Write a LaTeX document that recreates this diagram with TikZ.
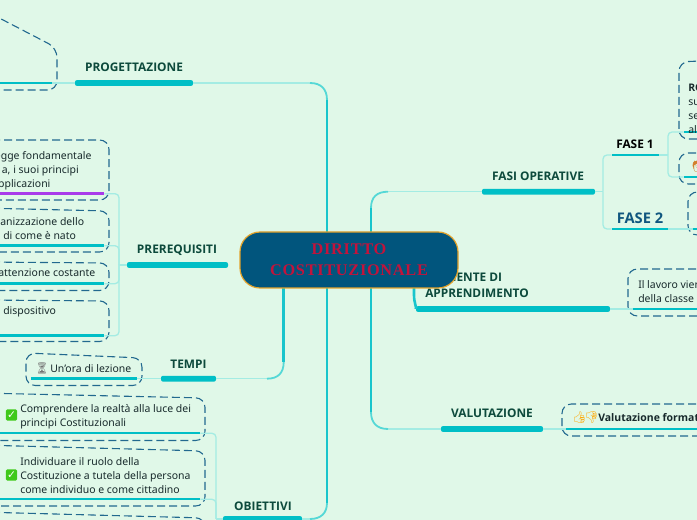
\documentclass[tikz,border=0pt]{standalone}
\usepackage{fontspec}
\setmainfont{Noto Sans}
\newfontfamily\boldf{Open Sans}
\newfontfamily\ctrfont[LetterSpace=4.5]{Liberation Serif}
\newfontfamily\emojifont{Noto Emoji}
\newfontfamily\dvfont{DejaVu Sans}
\definecolor{bgc}{HTML}{E0F8E8}
\definecolor{teal}{HTML}{00BFC6}
\definecolor{lightl}{HTML}{A4ECE3}
\definecolor{midl}{HTML}{55D8D6}
\definecolor{dashc}{HTML}{22698F}
\definecolor{topicc}{HTML}{0D4A3C}
\definecolor{txtc}{HTML}{17292B}
\definecolor{ctrc}{HTML}{01557D}
\definecolor{ctro}{HTML}{E3A32B}
\definecolor{ctrt}{HTML}{C3133B}
\definecolor{purp}{HTML}{A93BEA}
\definecolor{fase}{HTML}{10567F}
\definecolor{chkg}{HTML}{3FC91A}
\tikzset{
  px/.style={line width=#1*0.75pt},
  thinl/.style={draw=lightl,px=1.3,rounded corners=3pt},
  midline/.style={draw=midl,px=1.8},
  trunk/.style={draw=teal!90!white,px=2.6},
  dbox/.style={draw=dashc,px=1.1,dash pattern=on 6pt off 3pt,rounded corners=7pt},
  topic/.style={font=\boldf\bfseries\fontsize{8.9}{12}\selectfont,text=topicc,inner sep=0pt,align=left},
  btext/.style={font=\fontsize{7.85}{10.5}\selectfont,text=txtc,inner sep=0pt,align=left,anchor=west},
  barm/.style={fill=teal,draw=none,rounded corners=1.5pt,inner sep=0pt,minimum height=4.4pt},
  bars/.style={fill=teal,draw=none,inner sep=0pt,minimum height=1.8pt},
  chk/.style={fill=chkg,rounded corners=1pt,inner sep=0pt,minimum size=8.4pt,text=white,font=\dvfont\bfseries\fontsize{8}{8}\selectfont},
  emo/.style={font=\emojifont\fontsize{8.5}{8.5}\selectfont,inner sep=0pt},
}
\newcommand{\barn}[5]{\node[#1,minimum width={(#4-#3)*0.75pt}] (#2) at ({(#3+#4)/2},#5) {};}
\begin{document}
\begin{tikzpicture}[x=0.75pt,y=-0.75pt]
\useasboundingbox[fill=bgc] (0,0) rectangle (697,520);

% dashed boxes
\draw[dbox] (-20,8) -- (57,48) -- (57,90) -- (-20,90);
\draw[dbox] (-20,140) -- (109,140) -- (109,200) -- (-20,200);
\draw[dbox] (-20,208) -- (109,211) -- (109,252) -- (-20,252);
\draw[dbox] (-20,262) -- (109,263) -- (109,290.5) -- (-20,290.5);
\draw[dbox] (-20,300) -- (109,301) -- (109,341.5) -- (-20,341.5);
\draw[dbox] (26,353) -- (142,358) -- (142,385.5) -- (26,385.5) -- cycle;
\draw[dbox] (-20,393) -- (205,398) -- (205,440.5) -- (-20,440.5);
\draw[dbox] (-20,445) -- (205,451) -- (205,506) -- (-20,506);
\draw[dbox] (-20,512) -- (205,518) -- (205,560) -- (-20,560);
\draw[dbox] (720,60) -- (679,62) -- (679,139) -- (720,139);
\draw[dbox] (720,153) -- (679,153) -- (679,184) -- (720,184);
\draw[dbox] (720,192) -- (688,192) -- (688,235) -- (720,235);
\draw[dbox] (720,269) -- (628,269) -- (628,316) -- (720,316);
\draw[dbox] (720,404) -- (562,404) -- (562,436) -- (720,436);

% bars
\barn{barm}{bprog}{75}{193}{83}
\barn{barm}{bpre}{127}{228}{265}
\barn{barm}{btem}{161}{216}{378.7}
\barn{barm}{bobi}{223}{302}{519}
\barn{barm}{bfas}{482}{595}{191.7}
\barn{barm}{bamb}{416}{610}{309}
\barn{barm}{bval}{441}{543}{429}
\barn{bars}{bf1}{612}{659}{155}
\barn{bars}{bf2}{612}{668}{229}
\barn{bars}{bbA}{-5}{52}{83}
\barn{bars,fill=purp}{bp1}{-5}{104}{193.7}
\barn{bars}{bp2}{-5}{104}{245.7}
\barn{bars}{bp3}{-5}{104}{283.7}
\barn{bars}{bp4}{-5}{104}{335.7}
\barn{bars}{bt1}{31}{137}{378.7}
\barn{bars}{bo1}{0}{200}{433.3}
\barn{bars}{bo2}{0}{200}{499.3}
\barn{bars}{bfa1}{684}{702}{132}
\barn{bars}{bfa2}{684}{702}{177}
\barn{bars}{bfa3}{693}{702}{229}
\barn{bars}{bamb1}{633}{702}{309}
\barn{bars}{bval1}{566}{702}{429}

% junctions
\coordinate (jpre) at (119,265);
\coordinate (jobi) at (216,519);
\coordinate (jfas) at (603,191.7);
\coordinate (jf1) at (668,155);

% small connectors
\draw[thinl] (bprog.west) -- (bbA.east);
\draw[thinl] (bpre.west) -- (jpre);
\draw[thinl] (bp1.east) -| (jpre);
\draw[thinl] (bp2.east) -| (jpre);
\draw[thinl] (bp3.east) -| (jpre);
\draw[thinl] (bp4.east) -| (jpre);
\draw[thinl] (btem.west) -- (bt1.east);
\draw[thinl] (bobi.west) -- (jobi);
\draw[thinl] (bo1.east) -| (jobi);
\draw[thinl] (bo2.east) -| (jobi);
\draw[thinl] (bfas.east) -- (jfas);
\draw[thinl] (bf1.west) -| (jfas);
\draw[thinl] (bf2.west) -| (jfas);
\draw[thinl] (bf1.east) -- (jf1);
\draw[thinl] (bfa1.west) -| (jf1);
\draw[thinl] (bfa2.west) -| (jf1);
\draw[thinl] (bf2.east) -- (bfa3.west);
\draw[thinl] (bamb.east) -- (bamb1.west);
\draw[thinl] (bval.east) -- (bval1.west);

% topic labels
\node[topic] (tprog) at (134,67.5) {PROGETTAZIONE};
\node[topic] (tpre) at (177,250) {PREREQUISITI};
\node[topic] (ttem) at (188.5,364) {TEMPI};
\node[topic] (tobi) at (263,506) {OBIETTIVI};
\node[topic] (tfas) at (538,176.5) {FASI OPERATIVE};
\node[topic,anchor=west] (tamb) at (425,285.5) {AMBIENTE DI\\APPRENDIMENTO};
\node[topic] (tval) at (492,413.5) {VALUTAZIONE};
\node[topic,text=black] (tf1) at (635,144) {FASE 1};
\node[topic,text=fase,font=\boldf\bfseries\fontsize{11}{12}\selectfont] (tf2) at (640,218.5) {FASE 2};

% box texts
\node[btext] (p1) at (-8,170.5) {legge fondamentale\\\hspace*{7.2pt}a, i suoi principi\\\hspace*{0pt}applicazioni};
\node[btext] (p2) at (-17,228.5) {organizzazione dello\\\hspace*{15pt}di come è nato};
\node[btext] (p3) at (-2,273) {attenzione costante};
\node[btext] (p4) at (3,311.5) {dispositivo};
\node[emo,text=black!55] (ehour) at (42,368.5) {\char"23F3};
\node[btext] (t1) at (50,368.5) {Un'ora di lezione};
\node[chk] (c1) at (11.5,415) {\char"2713};
\node[btext] (o1) at (20,416.5) {Comprendere la realtà alla luce dei\\principi Costituzionali};
\node[chk] (c2) at (11.5,475) {\char"2713};
\node[btext] (o2) at (20,475.5) {Individuare il ruolo della\\Costituzione a tutela della persona\\come individuo e come cittadino};
\node[btext] (fa1) at (688,108.5) {{\boldf\bfseries RO}\\su\\se\\al};
\node[emo,text=brown!70!orange,anchor=west] (eper) at (690,167) {\char"1F9D1};
\node[btext] (am1) at (638,291.5) {Il lavoro viene\\della classe};
\node[emo,text=orange!70!yellow,anchor=west] (eup) at (572,418) {\char"1F44D};
\node[emo,text=orange!70!yellow,anchor=west] (edn) at (584,418) {\char"1F44E};
\node[btext,font=\boldf\bfseries\fontsize{7.85}{10.5}\selectfont] (va1) at (598,418) {Valutazione formativa};

% main trunks behind the central node
\coordinate (cprog) at (327,232);
\coordinate (cobi) at (327,288);
\coordinate (ctem) at (283.7,288);
\coordinate (cfas) at (371,232);
\coordinate (cval) at (371,288);
\coordinate (camb) at (414,288);

\draw[thinl,rounded corners=0pt] (bprog.east) -- (310,83);
\draw[midline] (310,83) .. controls (321,83) and (327,89) .. (327,100);
\draw[trunk] (327,100) -- (cprog);
\draw[thinl,rounded corners=0pt] (btem.east) -- (267,378.7);
\draw[midline] (267,378.7) .. controls (278,378.7) and (283.7,373) .. (283.7,362);
\draw[trunk] (283.7,362) -- (ctem);
\draw[thinl,rounded corners=0pt] (bobi.east) -- (310,519);
\draw[midline] (310,519) .. controls (321,519) and (327,513) .. (327,503);
\draw[trunk] (327,503) -- (cobi);
\draw[thinl,rounded corners=0pt] (bfas.west) -- (388,191.7);
\draw[midline] (388,191.7) .. controls (377,191.7) and (371,197) .. (371,208);
\draw[trunk] (371,208) -- (cfas);
\draw[thinl,rounded corners=0pt] (bval.west) -- (388,429);
\draw[midline] (388,429) .. controls (377,429) and (371,423) .. (371,412);
\draw[trunk] (371,412) -- (cval);
\draw[trunk] (camb) -- (414,295) .. controls (414,303) and (417,308) .. (bamb.west);

% central node
\node[draw=ctro,px=1.2,fill=ctrc,rounded corners=15pt,minimum width=163.5pt,minimum height=42pt,inner sep=0pt,align=center,text=ctrt,font=\ctrfont\bfseries\fontsize{12.2}{15.8}\selectfont] (center) at (349,260) {DIRITTO\\COSTITUZIONALE};
\end{tikzpicture}
\end{document}
